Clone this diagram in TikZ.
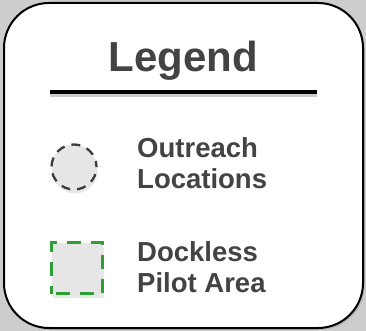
\documentclass[tikz,border=0pt]{standalone}
\usepackage{fontspec}
\setmainfont{Liberation Sans}
\usetikzlibrary{shadows}

\definecolor{textgray}{HTML}{434343}
\definecolor{dashgray}{HTML}{3C3C3C}
\definecolor{fillgray}{HTML}{E6E6E6}
\definecolor{pilotgreen}{HTML}{2F9E35}
\definecolor{backgray}{HTML}{CDCDCD}

\begin{document}
\begin{tikzpicture}
  [x=1pt,y=-1pt,
   legendbox/.style={draw=black,line width=2pt,fill=white,rounded corners=45pt,
     drop shadow={shadow xshift=2pt,shadow yshift=-2pt,opacity=.25}},
   entry/.style={anchor=base west,align=left,inner sep=0pt,text=textgray,
     font=\fontsize{27.5}{30.5}\selectfont\bfseries},
   soft/.style={drop shadow={shadow xshift=1pt,shadow yshift=-4pt,opacity=.18}}]
  \fill[backgray] (0,0) rectangle (366,331);
  \useasboundingbox (0,0) rectangle (366,331);
  \draw[legendbox] (4,3) rectangle (363,328);
  \node[text=textgray,anchor=base,font=\fontsize{42}{50}\selectfont\bfseries] (title) at (183.5,72) {Legend};
  \coordinate (ruleL) at (50,92);
  \coordinate (ruleR) at (317,92);
  \draw[line width=5pt,black!20] ([yshift=-3pt]ruleL) -- ([yshift=-3pt]ruleR);
  \draw[line width=4.5pt] (ruleL) -- (ruleR);
  \node[circle,minimum size=45pt,inner sep=0pt,fill=fillgray,draw=dashgray,line width=2.3pt,
    dash pattern=on 9pt off 7pt,dash phase=3pt,soft] (outreach) at (74,167) {};
  \node[rectangle,minimum size=51pt,inner sep=0pt,fill=fillgray,draw=pilotgreen,line width=3pt,
    dash pattern=on 14pt off 10pt,dash phase=-4pt,soft] (pilot) at (77,268) {};
  \node[entry] (outreachlbl) at (137,188) {Outreach\\Locations};
  \node[entry] (pilotlbl) at (137,292) {Dockless\\Pilot Area};
\end{tikzpicture}
\end{document}
